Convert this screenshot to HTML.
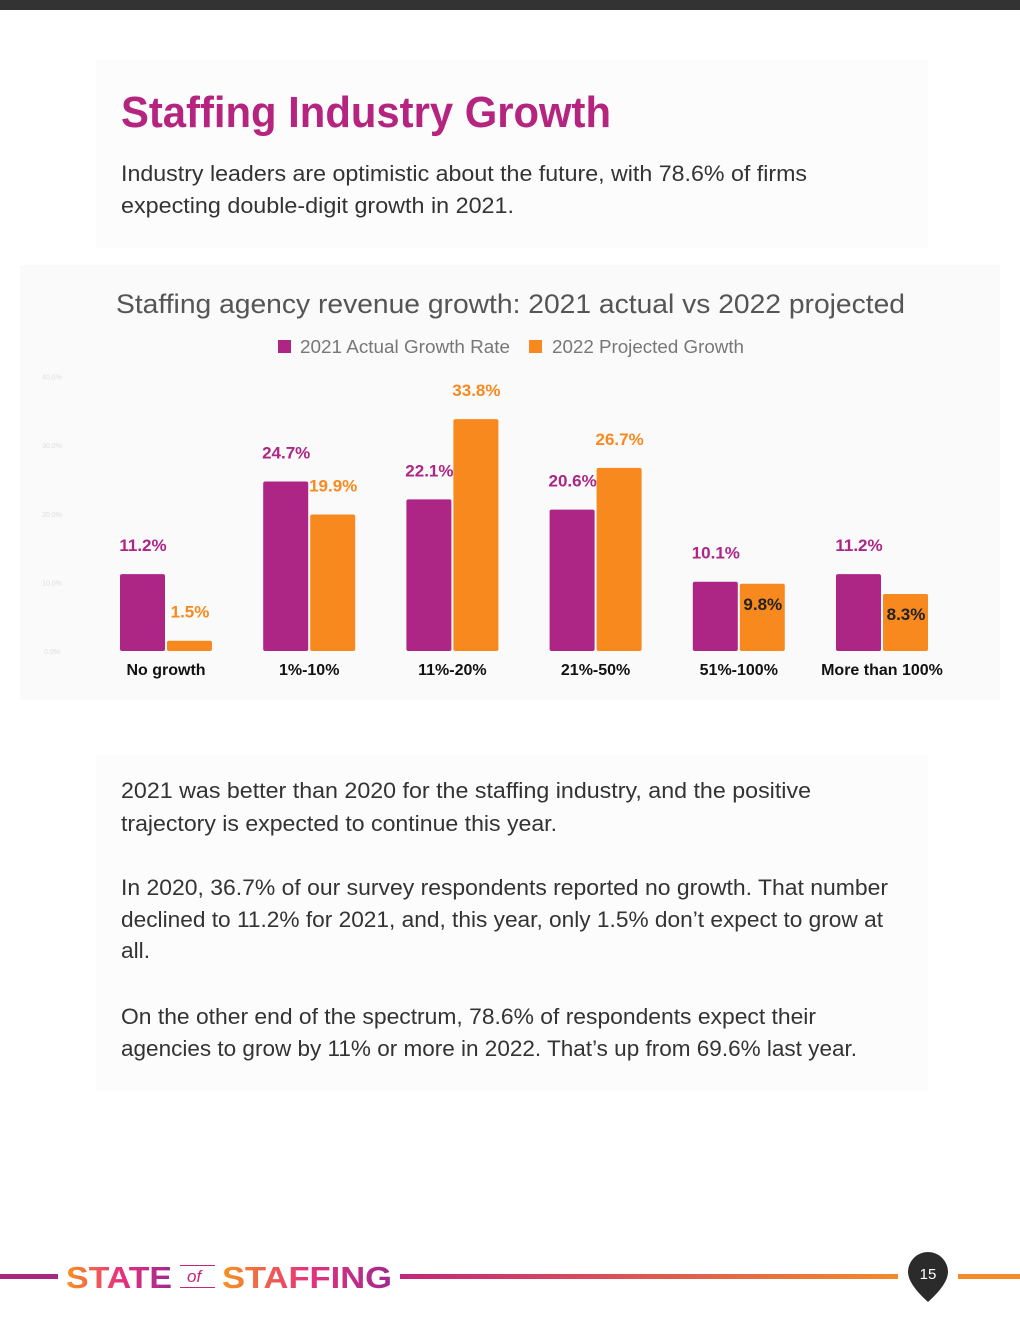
<!DOCTYPE html>
<html><head><meta charset="utf-8"><style>
html,body{margin:0;padding:0;background:#fff;}
svg{display:block;}
text{font-family:"Liberation Sans",sans-serif;}
</style></head><body>
<svg width="1020" height="1320" viewBox="0 0 1020 1320">
<defs>
<linearGradient id="lg" x1="0" x2="1" y1="0" y2="0"><stop offset="0" stop-color="#c4267a"/><stop offset="1" stop-color="#f48a2a"/></linearGradient>
<linearGradient id="lg2" x1="0" x2="1"><stop offset="0" stop-color="#f7931e"/><stop offset="0.5" stop-color="#e8327c"/><stop offset="1" stop-color="#a02890"/></linearGradient>
</defs>
<rect x="0" y="0" width="1020" height="10" fill="#333"/>
<rect x="96" y="60" width="832" height="188" fill="#fcfcfc"/>
<text x="121" y="127" font-size="44" font-weight="bold" fill="#b5247f" textLength="490" lengthAdjust="spacingAndGlyphs">Staffing Industry Growth</text>
<g fill="#333" font-size="22">
<text x="121" y="181" textLength="686" lengthAdjust="spacingAndGlyphs">Industry leaders are optimistic about the future, with 78.6% of firms</text>
<text x="121" y="213" textLength="393" lengthAdjust="spacingAndGlyphs">expecting double-digit growth in 2021.</text>
</g>
<rect x="20" y="265" width="980" height="435" fill="#fafafa"/>
<text x="116" y="313" font-size="27" fill="#555" textLength="789" lengthAdjust="spacingAndGlyphs">Staffing agency revenue growth: 2021 actual vs 2022 projected</text>
<g>
<rect x="278" y="340" width="13" height="13" fill="#ad2585"/>
<text x="300" y="353" font-size="18" fill="#777" textLength="210" lengthAdjust="spacingAndGlyphs">2021 Actual Growth Rate</text>
<rect x="529" y="340" width="13" height="13" fill="#f7891e"/>
<text x="552" y="353" font-size="18" fill="#777" textLength="192" lengthAdjust="spacingAndGlyphs">2022 Projected Growth</text>
</g>
<g id="chart"></g>
<rect x="96" y="755" width="832" height="335" fill="#fcfcfc"/>
<g fill="#333" font-size="22">
<text x="121" y="798" textLength="690" lengthAdjust="spacingAndGlyphs">2021 was better than 2020 for the staffing industry, and the positive</text>
<text x="121" y="831" textLength="436" lengthAdjust="spacingAndGlyphs">trajectory is expected to continue this year.</text>
<text x="121" y="895" textLength="767" lengthAdjust="spacingAndGlyphs">In 2020, 36.7% of our survey respondents reported no growth. That number</text>
<text x="121" y="927" textLength="762" lengthAdjust="spacingAndGlyphs">declined to 11.2% for 2021, and, this year, only 1.5% don’t expect to grow at</text>
<text x="121" y="958" textLength="29" lengthAdjust="spacingAndGlyphs">all.</text>
<text x="121" y="1024" textLength="695" lengthAdjust="spacingAndGlyphs">On the other end of the spectrum, 78.6% of respondents expect their</text>
<text x="121" y="1056" textLength="736" lengthAdjust="spacingAndGlyphs">agencies to grow by 11% or more in 2022. That’s up from 69.6% last year.</text>
</g>
<g>
<rect x="0" y="1274" width="58" height="5" fill="#a8287f"/>
<text x="66" y="1288" font-size="31" font-weight="bold" fill="url(#lg2)" textLength="106" lengthAdjust="spacingAndGlyphs">STATE</text>
<text x="187" y="1282" font-size="17" font-style="italic" font-family="Liberation Serif" fill="#c4267a">of</text>
<rect x="180" y="1265" width="35" height="1" fill="#c4267a"/>
<rect x="180" y="1287" width="35" height="1" fill="#c4267a"/>
<text x="222" y="1288" font-size="31" font-weight="bold" fill="url(#lg2)" textLength="170" lengthAdjust="spacingAndGlyphs">STAFFING</text>
<rect x="400" y="1274" width="498" height="5" fill="url(#lg)"/>
<path d="M908 1272 A20 20 0 0 1 948 1272 Q948 1284 928 1302 Q908 1284 908 1272 Z" fill="#2b2b2b"/>
<text x="928" y="1279" font-size="15" fill="#fff" text-anchor="middle" font-family="Liberation Serif">15</text>
<rect x="958" y="1274" width="62" height="5" fill="#f48a2a"/>
</g>
</svg>
<script>
const categories=["No growth","1%-10%","11%-20%","21%-50%","51%-100%","More than 100%"];
const actual2021=[11.2,24.7,22.1,20.6,10.1,11.2];
const projected2022=[1.5,19.9,33.8,26.7,9.8,8.3];
const yTicks=[0,10,20,30,40];
const NS="http://www.w3.org/2000/svg";
const g=document.getElementById('chart');
const base=651, pxPer=6.86;
function y(v){return base-v*pxPer;}
function cx(i){return 166+i*143.2;}
function mk(tag,attrs){const e=document.createElementNS(NS,tag);for(const k in attrs)e.setAttribute(k,attrs[k]);g.appendChild(e);return e;}
yTicks.forEach(t=>{
  const e=mk('text',{x:52,y:y(t)+3,'font-size':7,fill:'#ddd','text-anchor':'middle'});
  e.textContent=t.toFixed(1)+'%';
  
  
});
categories.forEach((c,i)=>{
  const a=actual2021[i], p=projected2022[i];
  const b1=mk('rect',{x:cx(i)-46,y:y(a),width:45,height:base-y(a),fill:'#ad2585',rx:2});
  
  
  const b2=mk('rect',{x:cx(i)+1,y:y(p),width:45,height:base-y(p),fill:'#f7891e',rx:2});
  
  
  const l1=mk('text',{x:cx(i)-23,y:y(a)-23,'font-size':17,'font-weight':'bold',fill:'#ad2585','text-anchor':'middle'});
  l1.textContent=a.toFixed(1)+'%';
  
  
  const l2=mk('text',{x:cx(i)+24,y:y(p)-23,'font-size':17,'font-weight':'bold',fill:i>3?'#222':'#f7891e','text-anchor':'middle'});
  if(i>3){l2.setAttribute('y',y(p)+26);}
  l2.textContent=p.toFixed(1)+'%';
  
  
  const cl=mk('text',{x:cx(i),y:675,'font-size':16,'font-weight':'bold',fill:'#111','text-anchor':'middle'});
  cl.textContent=c;
  
  
});
</script>
</body></html>
